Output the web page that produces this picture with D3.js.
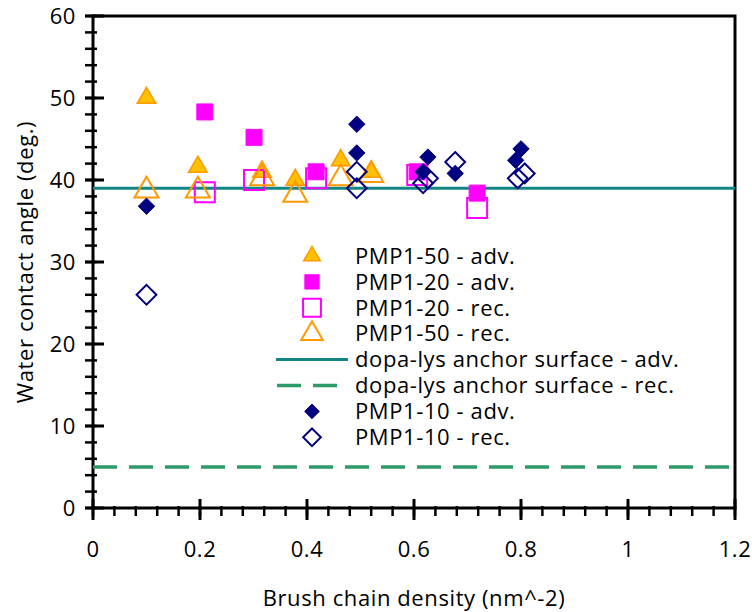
<!DOCTYPE html>
<html>
<head>
<meta charset="utf-8">
<script src="https://cdn.jsdelivr.net/npm/d3@7"></script>
<style>
  body { margin: 0; background: #fff; }
  svg text { font-family: "Open Sans", Lato, sans-serif; fill: #000; letter-spacing: 0.6px; }
</style>
</head>
<body>
<div id="chart"></div>
<script>
// data: [density, angle]
const pmp50Adv = [[0.10, 50.0], [0.196, 41.6], [0.316, 41.0], [0.378, 40.0], [0.463, 42.4], [0.52, 41.0]];
const pmp20Adv = [[0.209, 48.3], [0.301, 45.2], [0.417, 41.0], [0.606, 41.0], [0.718, 38.4]];
const pmp20Rec = [[0.209, 38.5], [0.301, 40.0], [0.417, 40.2], [0.606, 40.6], [0.718, 36.6]];
const pmp50Rec = [[0.10, 38.7], [0.196, 38.7], [0.316, 40.2], [0.378, 38.2], [0.463, 40.2], [0.52, 40.6]];
const anchorAdv = 39;
const anchorRec = 5;
const pmp10Adv = [[0.10, 36.8], [0.493, 46.8], [0.493, 43.3], [0.617, 41.0], [0.626, 42.8], [0.677, 40.8], [0.79, 42.4], [0.80, 43.8]];
const pmp10Rec = [[0.10, 26.0], [0.493, 41.0], [0.493, 39.0], [0.617, 39.6], [0.626, 40.2], [0.677, 42.2], [0.794, 40.2], [0.807, 40.8]];

const xTicks = [0, 0.2, 0.4, 0.6, 0.8, 1, 1.2];
const yTicks = [0, 10, 20, 30, 40, 50, 60];

const legendLabels = [
  "PMP1-50 - adv.", "PMP1-20 - adv.", "PMP1-20 - rec.", "PMP1-50 - rec.",
  "dopa-lys anchor surface - adv.", "dopa-lys anchor surface - rec.",
  "PMP1-10 - adv.", "PMP1-10 - rec."
];

const width = 752, height = 612;
const margin = { top: 16, right: 17, bottom: 104, left: 93 };
const fontSize = "22px";

const svg = d3.select("#chart").append("svg")
  .attr("width", width)
  .attr("height", height);

const x = d3.scaleLinear().domain([0, 1.2]).range([margin.left, width - margin.right]);
const y = d3.scaleLinear().domain([0, 60]).range([height - margin.bottom, margin.top]);

// marker styles, one per scatter series
const styles = {
  tri: { type: d3.symbolTriangle, size: 150, fill: "#FFC000", stroke: "#FF9900", sw: 1.5 },
  sq: { type: d3.symbolSquare, size: 256, fill: "#FF00FF", stroke: "#FF00FF", sw: 1 },
  sqOpen: { type: d3.symbolSquare, size: 400, fill: "none", stroke: "#FF00FF", sw: 2 },
  triOpen: { type: d3.symbolTriangle, size: 250, fill: "none", stroke: "#FF9900", sw: 2 },
  dia: { type: d3.symbolDiamond2, size: 170, fill: "#000080", stroke: "#000080", sw: 1 },
  diaOpen: { type: d3.symbolDiamond2, size: 250, fill: "none", stroke: "#000080", sw: 2 },
};

const symbolPath = (s) => d3.symbol().type(s.type).size(s.size)();

// frame
svg.append("rect")
  .attr("x", x(0)).attr("y", y(60))
  .attr("width", x(1.2) - x(0)).attr("height", y(0) - y(60))
  .attr("fill", "none").attr("stroke", "#000").attr("stroke-width", 3);

// minor ticks
const yMinor = d3.range(0, 61, 2);
svg.append("g").selectAll("line").data(yMinor).join("line")
  .attr("x1", x(0) - 8).attr("x2", x(0) + 4)
  .attr("y1", (d) => y(d)).attr("y2", (d) => y(d))
  .attr("stroke", "#000").attr("stroke-width", 2.5);
const xMinor = d3.range(0, 1.201, 0.04);
svg.append("g").selectAll("line").data(xMinor).join("line")
  .attr("y1", y(0) - 2).attr("y2", y(0) + 8)
  .attr("x1", (d) => x(d)).attr("x2", (d) => x(d))
  .attr("stroke", "#000").attr("stroke-width", 2.5);

// major ticks
svg.append("g").selectAll("line").data(yTicks).join("line")
  .attr("x1", x(0) - 8).attr("x2", x(0) + 11)
  .attr("y1", (d) => y(d)).attr("y2", (d) => y(d))
  .attr("stroke", "#000").attr("stroke-width", 3);
svg.append("g").selectAll("line").data(xTicks).join("line")
  .attr("y1", y(0) - 9).attr("y2", y(0) + 12)
  .attr("x1", (d) => x(d)).attr("x2", (d) => x(d))
  .attr("stroke", "#000").attr("stroke-width", 3);

// tick labels
svg.append("g").selectAll("text").data(yTicks).join("text")
  .attr("x", x(0) - 17).attr("y", (d) => y(d))
  .attr("dy", "0.35em").attr("text-anchor", "end")
  .style("font-size", fontSize)
  .text((d) => d);
svg.append("g").selectAll("text").data(xTicks).join("text")
  .attr("x", (d) => x(d)).attr("y", 549)
  .attr("dy", "0.35em").attr("text-anchor", "middle")
  .style("font-size", fontSize)
  .text((d) => d);

// axis titles
svg.append("text")
  .attr("transform", `translate(25, ${(y(0) + y(60)) / 2}) rotate(-90)`)
  .attr("text-anchor", "middle").attr("dy", "0.35em")
  .style("font-size", fontSize)
  .text("Water contact angle (deg.)");
svg.append("text")
  .attr("x", 414).attr("y", 598)
  .attr("text-anchor", "middle").attr("dy", "0.35em")
  .style("font-size", fontSize)
  .text("Brush chain density (nm^-2)");

// anchor surface reference lines
svg.append("line")
  .attr("x1", x(0)).attr("x2", x(1.2))
  .attr("y1", y(anchorAdv)).attr("y2", y(anchorAdv))
  .attr("stroke", "#138584").attr("stroke-width", 3);
svg.append("line")
  .attr("x1", x(0)).attr("x2", x(1.2))
  .attr("y1", y(anchorRec)).attr("y2", y(anchorRec))
  .attr("stroke", "#2E9A68").attr("stroke-width", 3.5)
  .attr("stroke-dasharray", "24,12");

// scatter series in legend order
const series = [
  [pmp50Adv, styles.tri],
  [pmp20Adv, styles.sq],
  [pmp20Rec, styles.sqOpen],
  [pmp50Rec, styles.triOpen],
  [pmp10Adv, styles.dia],
  [pmp10Rec, styles.diaOpen],
];

series.forEach(([data, s]) => {
  svg.append("g").selectAll("path").data(data).join("path")
    .attr("d", symbolPath(s))
    .attr("transform", (d) => `translate(${x(d[0])}, ${y(d[1])})`)
    .attr("fill", s.fill)
    .attr("stroke", s.stroke)
    .attr("stroke-width", s.sw);
});

// legend
const legendStyles = [styles.tri, styles.sq, styles.sqOpen, styles.triOpen, "solid", "dash", styles.dia, styles.diaOpen];
const legend = svg.append("g");
legendLabels.forEach((label, i) => {
  const ly = 256 + i * 25.9;
  const s = legendStyles[i];
  if (s === "solid") {
    legend.append("line").attr("x1", 276).attr("x2", 348).attr("y1", ly).attr("y2", ly)
      .attr("stroke", "#138584").attr("stroke-width", 3);
  } else if (s === "dash") {
    legend.append("line").attr("x1", 277).attr("x2", 348).attr("y1", ly).attr("y2", ly)
      .attr("stroke", "#2E9A68").attr("stroke-width", 3.5).attr("stroke-dasharray", "24,12");
  } else {
    legend.append("path")
      .attr("d", d3.symbol().type(s.type).size(s.size * 0.8)())
      .attr("transform", `translate(312, ${ly})`)
      .attr("fill", s.fill).attr("stroke", s.stroke).attr("stroke-width", s.sw);
  }
  legend.append("text")
    .attr("x", 355).attr("y", ly).attr("dy", "0.35em")
    .style("font-size", fontSize)
    .text(label);
});
</script>
</body>
</html>
